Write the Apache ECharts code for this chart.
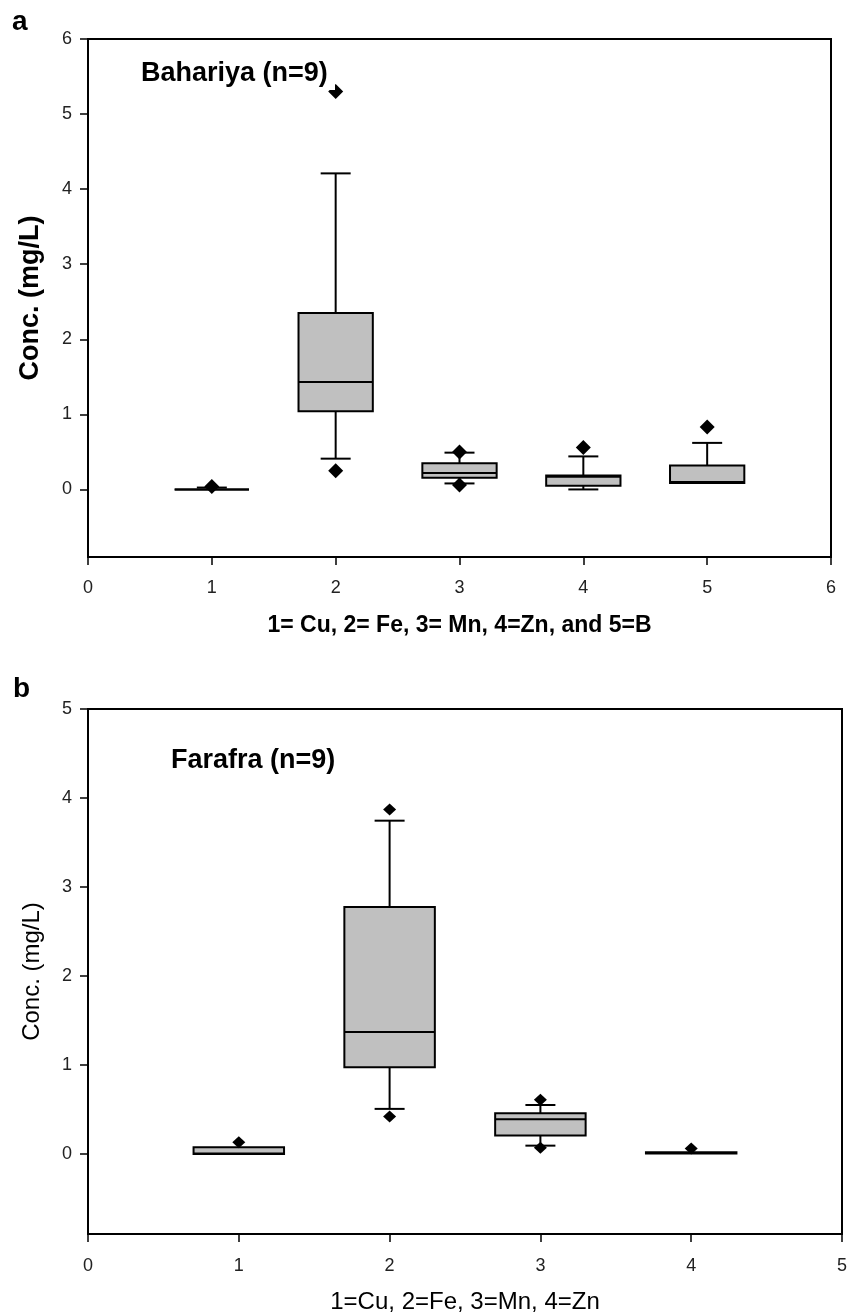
<!DOCTYPE html>
<html>
<head>
<meta charset="utf-8">
<script src="https://cdn.jsdelivr.net/npm/echarts@6/dist/echarts.min.js"></script>
<style>
html,body{margin:0;padding:0;background:#fff;}
#c{width:849px;height:1315px;}
</style>
</head>
<body>
<div id="c"></div>
<script>
const FONT = '"Liberation Sans", Arial, Helvetica, sans-serif';

// ---- Panel a: Bahariya (n=9) ----
const bahX = [1, 2, 3, 4, 5];                 // 1=Cu, 2=Fe, 3=Mn, 4=Zn, 5=B
const bahLow = [0, 0.41, 0.08, 0.0, 0.085];    // lower whisker
const bahQ1 = [0, 1.04, 0.155, 0.05, 0.085];
const bahMedian = [0, 1.43, 0.22, 0.17, 0.10];
const bahQ3 = [0, 2.35, 0.35, 0.185, 0.32];
const bahHigh = [0.025, 4.21, 0.49, 0.44, 0.62]; // upper whisker
const bahOutX = [1, 2, 2, 3, 3, 4, 5];
const bahOutY = [0.04, 5.30, 0.25, 0.50, 0.06, 0.56, 0.83];
const bahYTicks = [0, 1, 2, 3, 4, 5, 6];

// ---- Panel b: Farafra (n=9) ----
const farX = [1, 2, 3, 4];                     // 1=Cu, 2=Fe, 3=Mn, 4=Zn
const farLow = [0, 0.506, 0.093, 0.005];
const farQ1 = [0, 0.975, 0.206, 0.005];
const farMedian = [0.005, 1.37, 0.39, 0.01];
const farQ3 = [0.075, 2.775, 0.458, 0.02];
const farHigh = [0.075, 3.745, 0.55, 0.02];
const farOutX = [1, 2, 2, 3, 3, 4];
const farOutY = [0.13, 3.87, 0.42, 0.61, 0.07, 0.06];
const farYTicks = [0, 1, 2, 3, 4, 5];

function boxRows(xs, lo, q1, md, q3, hi) {
  return xs.map((x, i) => [x, lo[i], q1[i], md[i], q3[i], hi[i]]);
}
function outRows(xs, ys) {
  return xs.map((x, i) => [x, ys[i]]);
}

function makeRender(halfBox, capHalf) {
  return function (params, api) {
    const x = api.value(0);
    const vLo = api.value(1), vQ1 = api.value(2), vMd = api.value(3), vQ3 = api.value(4), vHi = api.value(5);
    const lo = api.coord([x, vLo]);
    const q1 = api.coord([x, vQ1]);
    const md = api.coord([x, vMd]);
    const q3 = api.coord([x, vQ3]);
    const hi = api.coord([x, vHi]);
    const left = api.coord([x - halfBox, 0])[0];
    const right = api.coord([x + halfBox, 0])[0];
    const cx = q1[0];
    const ls = { stroke: '#000', lineWidth: 2 };
    const children = [];
    if (vHi > vQ3) {
      children.push({ type: 'line', shape: { x1: cx, y1: q3[1], x2: cx, y2: hi[1] }, style: ls });
      children.push({ type: 'line', shape: { x1: cx - capHalf, y1: hi[1], x2: cx + capHalf, y2: hi[1] }, style: ls });
    }
    if (vLo < vQ1) {
      children.push({ type: 'line', shape: { x1: cx, y1: q1[1], x2: cx, y2: lo[1] }, style: ls });
      children.push({ type: 'line', shape: { x1: cx - capHalf, y1: lo[1], x2: cx + capHalf, y2: lo[1] }, style: ls });
    }
    children.push({
      type: 'rect',
      shape: { x: left, y: q3[1], width: right - left, height: q1[1] - q3[1] },
      style: { fill: '#c0c0c0', stroke: '#000', lineWidth: 2 }
    });
    children.push({ type: 'line', shape: { x1: left, y1: md[1], x2: right, y2: md[1] }, style: ls });
    return { type: 'group', children: children };
  };
}

const axisLineStyle = { show: true, onZero: false, lineStyle: { color: '#000', width: 2 } };
const tickStyle = { show: true, length: 8, lineStyle: { color: '#000', width: 1.5 } };
const labelBase = { fontSize: 18, color: '#222', fontFamily: FONT };

const option = {
  animation: false,
  backgroundColor: '#fff',
  grid: [
    { left: 88, top: 39, right: 18, bottom: 758, show: true, borderColor: '#000', borderWidth: 2, outerBoundsMode: 'none' },
    { left: 88, top: 709, right: 7, bottom: 81, show: true, borderColor: '#000', borderWidth: 2, outerBoundsMode: 'none' }
  ],
  xAxis: [
    {
      gridIndex: 0, type: 'value', min: 0, max: 6, interval: 1,
      axisLine: axisLineStyle, axisTick: tickStyle, splitLine: { show: false },
      axisLabel: Object.assign({ margin: 22 }, labelBase),
      name: '1= Cu, 2= Fe, 3= Mn, 4=Zn, and 5=B', nameLocation: 'middle', nameGap: 57,
      nameTextStyle: { fontSize: 23, fontWeight: 'bold', color: '#000', fontFamily: FONT }
    },
    {
      gridIndex: 1, type: 'value', min: 0, max: 5, interval: 1,
      axisLine: axisLineStyle, axisTick: tickStyle, splitLine: { show: false },
      axisLabel: Object.assign({ margin: 23 }, labelBase),
      name: '1=Cu, 2=Fe, 3=Mn, 4=Zn', nameLocation: 'middle', nameGap: 56,
      nameTextStyle: { fontSize: 24, color: '#000', fontFamily: FONT }
    }
  ],
  yAxis: [
    {
      gridIndex: 0, type: 'value', min: -0.9, max: 6,
      axisLine: axisLineStyle,
      axisTick: Object.assign({ customValues: bahYTicks }, tickStyle),
      splitLine: { show: false },
      axisLabel: Object.assign({ margin: 16, customValues: bahYTicks }, labelBase),
      name: 'Conc. (mg/L)', nameLocation: 'middle', nameGap: 44,
      nameTextStyle: { fontSize: 27, fontWeight: 'bold', color: '#000', fontFamily: FONT }
    },
    {
      gridIndex: 1, type: 'value', min: -0.9, max: 5,
      axisLine: axisLineStyle,
      axisTick: Object.assign({ customValues: farYTicks }, tickStyle),
      splitLine: { show: false },
      axisLabel: Object.assign({ margin: 16, customValues: farYTicks }, labelBase),
      name: 'Conc. (mg/L)', nameLocation: 'middle', nameGap: 44,
      nameTextStyle: { fontSize: 24, color: '#000', fontFamily: FONT }
    }
  ],
  series: [
    {
      type: 'custom', xAxisIndex: 0, yAxisIndex: 0, z: 3,
      renderItem: makeRender(0.3, 15),
      encode: { x: 0, y: [1, 2, 3, 4, 5] },
      data: boxRows(bahX, bahLow, bahQ1, bahMedian, bahQ3, bahHigh)
    },
    {
      type: 'scatter', xAxisIndex: 0, yAxisIndex: 0, z: 4,
      symbol: 'diamond', symbolSize: [15, 15],
      itemStyle: { color: '#000', opacity: 1 },
      data: outRows(bahOutX, bahOutY)
    },
    {
      type: 'custom', xAxisIndex: 1, yAxisIndex: 1, z: 3,
      renderItem: makeRender(0.3, 15),
      encode: { x: 0, y: [1, 2, 3, 4, 5] },
      data: boxRows(farX, farLow, farQ1, farMedian, farQ3, farHigh)
    },
    {
      type: 'scatter', xAxisIndex: 1, yAxisIndex: 1, z: 4,
      symbol: 'diamond', symbolSize: [13, 12],
      itemStyle: { color: '#000', opacity: 1 },
      data: outRows(farOutX, farOutY)
    }
  ],
  graphic: [
    { type: 'rect', z: 100, shape: { x: 139, y: 58, width: 196, height: 32 }, style: { fill: '#fff' } },
    { type: 'text', z: 101, x: 12, y: 22, style: { text: 'a', font: 'bold 28px ' + FONT, fill: '#000', verticalAlign: 'middle' } },
    { type: 'text', z: 101, x: 141, y: 74, style: { text: 'Bahariya (n=9)', font: 'bold 27px ' + FONT, fill: '#000', verticalAlign: 'middle' } },
    { type: 'text', z: 101, x: 13, y: 689, style: { text: 'b', font: 'bold 28px ' + FONT, fill: '#000', verticalAlign: 'middle' } },
    { type: 'text', z: 101, x: 171, y: 761, style: { text: 'Farafra (n=9)', font: 'bold 27px ' + FONT, fill: '#000', verticalAlign: 'middle' } }
  ]
};

const chart = echarts.init(document.getElementById('c'), null, { renderer: 'canvas' });
chart.setOption(option);
</script>
</body>
</html>
